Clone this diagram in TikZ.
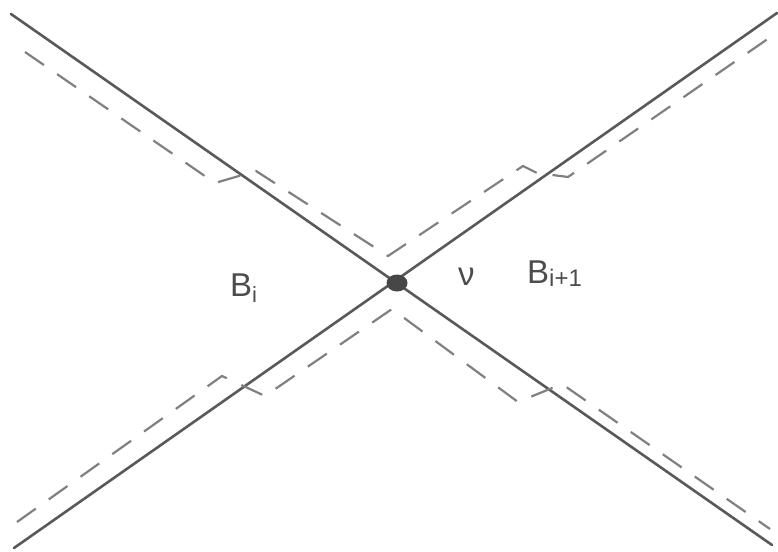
\documentclass[tikz,border=0pt]{standalone}
\usepackage{fontspec}
\setmainfont{Liberation Sans}
\usetikzlibrary{shapes.geometric}
\begin{document}
\begin{tikzpicture}[x=1pt,y=-1pt,
  solidline/.style={draw=black!65, line width=2.6pt, line cap=round},
  dashline/.style={draw=black!50, line width=2.2pt, dash pattern=on 23pt off 16pt},
  lbl/.style={text=black!70, inner sep=0pt, font=\fontsize{33}{33}\selectfont}]
\useasboundingbox (0,0) rectangle (778,551);
% solid lines
\coordinate (a1) at (11,14);
\coordinate (a2) at (772,545);
\coordinate (b1) at (14,548);
\coordinate (b2) at (777,13);
\draw[solidline] (a1) -- (a2);
\draw[solidline] (b1) -- (b2);
% top dashed path
\coordinate (t0) at (25,52);
\coordinate (t1) at (215,183);
\coordinate (t2) at (256,171);
\coordinate (t3) at (388,256);
\coordinate (t4) at (523,166);
\coordinate (t5) at (537,173);
\coordinate (t6) at (568,177);
\coordinate (t7) at (772,36);
\draw[dashline] (t0) -- (t1) -- (t2) -- (t3) -- (t4) -- (t5) -- (t6) -- (t7);
% bottom dashed path
\coordinate (u0) at (17,522);
\coordinate (u1) at (222,376);
\coordinate (u2) at (265,396);
\coordinate (u3) at (392,309);
\coordinate (u4) at (518,402);
\coordinate (u5) at (562,384);
\coordinate (u6) at (770,529);
\draw[dashline] (u0) -- (u1) -- (u2) -- (u3) -- (u4) -- (u5) -- (u6);
% vertex
\node[ellipse, fill=black!72, minimum width=21pt, minimum height=17pt, inner sep=0pt] (v) at (397,283) {};
% labels
\node[lbl, anchor=base west] (bi) at (230,296) {B\raisebox{-6pt}{\fontsize{22}{22}\selectfont i}};
\node[lbl, anchor=base west] (nu) at (458,285) {ν};
\node[lbl, anchor=base west] (bi1) at (527,283) {B\raisebox{-3pt}{\fontsize{24}{24}\selectfont i+1}};
\end{tikzpicture}
\end{document}
